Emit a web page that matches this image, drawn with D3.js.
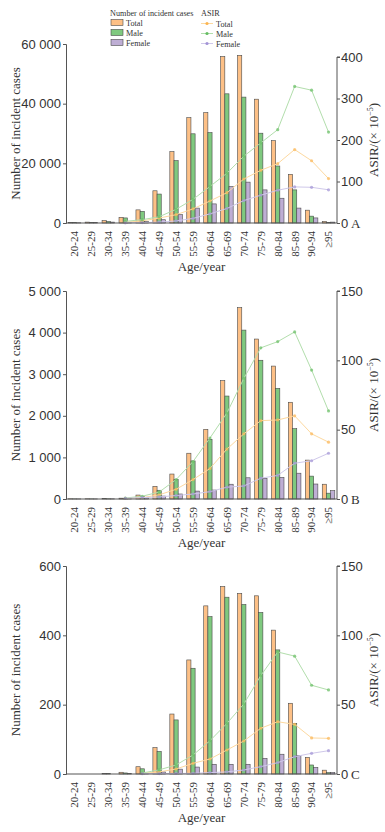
<!DOCTYPE html>
<html lang="en">
<head>
  <meta charset="UTF-8">
  <title>Incident cases and ASIR by age group</title>
  <script src="https://d3js.org/d3.v7.min.js"></script>
  <style>
    body { margin: 0; background: #fff; }
    svg { font-family: "Liberation Serif", "Times New Roman", serif; }
    .axis path, .axis line { stroke: #555; }
    .axis text { fill: #333; }
  </style>
</head>
<body>
  <script>
    // Age groups (x categories)
    const ageGroups = ["20-24", "25-29", "30-34", "35-39", "40-44", "45-49", "50-54", "55-59",
      "60-64", "65-69", "70-74", "75-79", "80-84", "85-89", "90-94", "≥95"];

    // Panel A: incident cases
    const casesTotalA  = [200, 300, 800, 1900, 4400, 10800, 23900, 35300, 37000, 55800, 56200, 41500, 27600, 16300, 4300, 500];
    const casesMaleA   = [120, 180, 500, 1700, 3900, 9700, 20900, 29900, 30300, 43300, 42200, 30100, 19100, 11100, 2300, 200];
    const casesFemaleA = [80, 120, 300, 200, 500, 1100, 2800, 5000, 6400, 12200, 13700, 11100, 8300, 5000, 1700, 300];
    // Panel A: ASIR (x10^-5)
    const asirTotalA  = [null, null, null, 2, 5, 12, 20, 34, 53, 73, 106, 127, 143, 177, 150, 107];
    const asirMaleA   = [null, null, null, 4, 8, 15, 33, 57, 88, 120, 161, 193, 225, 329, 320, 219];
    const asirFemaleA = [null, null, null, 0.5, 1, 2, 5, 11, 22, 35, 54, 67, 79, 87, 86, 80];

    // Panel B: incident cases
    const casesTotalB  = [5, 5, 10, 20, 95, 305, 600, 1100, 1675, 2845, 4600, 3845, 3195, 2325, 935, 355];
    const casesMaleB   = [3, 3, 6, 15, 60, 210, 465, 915, 1435, 2475, 4060, 3335, 2660, 1690, 550, 140];
    const casesFemaleB = [2, 2, 4, 10, 30, 70, 120, 190, 215, 355, 510, 495, 520, 620, 360, 200];
    // Panel B: ASIR
    const asirTotalB  = [null, null, null, 0.5, 1, 3, 7, 14, 22, 36, 47, 56.5, 57, 60, 47, 41];
    const asirMaleB   = [null, null, null, 0.7, 2, 5, 14, 27, 44, 62, 87, 109, 113.5, 120.5, 93, 63.5];
    const asirFemaleB = [null, null, null, 0.5, 1, 1.5, 2.5, 3.6, 5.3, 8.5, 9.4, 15, 17, 25.8, 27.6, 33];

    // Panel C: incident cases
    const casesTotalC  = [0, 0, 1, 5, 21, 76, 173, 329, 485, 541, 521, 514, 415, 204, 48, 11];
    const casesMaleC   = [0, 0, 1, 3, 15, 65, 156, 305, 454, 510, 489, 466, 358, 146, 26, 4];
    const casesFemaleC = [0, 0, 0, 1, 1, 6, 14, 20, 28, 28, 28, 45, 57, 53, 19, 4];
    // Panel C: ASIR
    const asirTotalC  = [null, null, null, null, 0.5, 1.5, 3.6, 7.7, 10.8, 17.3, 23.8, 33, 37.7, 35.8, 26, 25.7];
    const asirMaleC   = [null, null, null, null, 0.7, 3, 6.5, 13.7, 24, 36.5, 50.5, 71, 88, 85, 64, 60.6];
    const asirFemaleC = [null, null, null, null, 0.2, 0.3, 0.4, 0.5, 1, 1.5, 2.9, 5.3, 8.2, 12.5, 14.9, 16.8];

    // Axis tick values
    const leftTicksA = [0, 20000, 40000, 60000];
    const rightTicksA = [0, 100, 200, 300, 400];
    const leftTicksB = [0, 1000, 2000, 3000, 4000, 5000];
    const rightTicksB = [0, 50, 100, 150];
    const leftTicksC = [0, 200, 400, 600];
    const rightTicksC = [0, 50, 100, 150];

    const seriesNames = ["Total", "Male", "Female"];
    const barColors = {Total: "#fdc086", Male: "#7fc97f", Female: "#beaed4"};
    const lineColors = {Total: "#fdd9a0", Male: "#b2deac", Female: "#cfc8ea"};
    const dotColors = {Total: "#fbb552", Male: "#66bd63", Female: "#a394d6"};

    const width = 385, height = 832;
    const left = 66, right = 337;

    const svg = d3.select("body").append("svg")
      .attr("width", width)
      .attr("height", height);

    const fmt = v => d3.format(",")(v).replace(/,/g, " ");

    const x = d3.scaleBand().domain(ageGroups).range([left, right])
      .paddingInner(0.26).paddingOuter(0.13);
    const xSub = d3.scaleBand().domain(seriesNames).range([0, x.bandwidth()]);

    const panels = [
      {label: "A", top: 44, bottom: 223, rTop: 57, leftMax: 60000, rightMax: 400,
       leftTicks: leftTicksA, rightTicks: rightTicksA,
       cases: {Total: casesTotalA, Male: casesMaleA, Female: casesFemaleA},
       asir: {Total: asirTotalA, Male: asirMaleA, Female: asirFemaleA}},
      {label: "B", top: 291, bottom: 499, rTop: 291, leftMax: 5000, rightMax: 150,
       leftTicks: leftTicksB, rightTicks: rightTicksB,
       cases: {Total: casesTotalB, Male: casesMaleB, Female: casesFemaleB},
       asir: {Total: asirTotalB, Male: asirMaleB, Female: asirFemaleB}},
      {label: "C", top: 566, bottom: 774, rTop: 566, leftMax: 600, rightMax: 150,
       leftTicks: leftTicksC, rightTicks: rightTicksC,
       cases: {Total: casesTotalC, Male: casesMaleC, Female: casesFemaleC},
       asir: {Total: asirTotalC, Male: asirMaleC, Female: asirFemaleC}}
    ];

    panels.forEach(p => {
      const y = d3.scaleLinear().domain([0, p.leftMax]).range([p.bottom, p.top]);
      const y2 = d3.scaleLinear().domain([0, p.rightMax]).range([p.bottom, p.rTop]);
      const g = svg.append("g");

      // bars
      seriesNames.forEach(s => {
        g.selectAll(null)
          .data(ageGroups.map((a, i) => ({a, v: p.cases[s][i]})))
          .enter().append("rect")
          .attr("x", d => x(d.a) + xSub(s))
          .attr("y", d => y(d.v))
          .attr("width", xSub.bandwidth())
          .attr("height", d => p.bottom - y(d.v))
          .attr("fill", barColors[s])
          .attr("stroke", "#4a4a4a")
          .attr("stroke-width", 0.6);
      });

      // ASIR lines
      seriesNames.forEach(s => {
        const pts = ageGroups.map((a, i) => ({a, v: p.asir[s][i]}));
        const line = d3.line()
          .defined(d => d.v !== null)
          .x(d => x(d.a) + x.bandwidth() / 2)
          .y(d => y2(d.v));
        g.append("path")
          .datum(pts)
          .attr("fill", "none")
          .attr("stroke", lineColors[s])
          .attr("stroke-width", 1)
          .attr("d", line);
        g.selectAll(null)
          .data(pts.filter(d => d.v !== null))
          .enter().append("circle")
          .attr("cx", d => x(d.a) + x.bandwidth() / 2)
          .attr("cy", d => y2(d.v))
          .attr("r", 1.6)
          .attr("fill", dotColors[s])
          .attr("opacity", 0.7);
      });

      // left axis
      const ax = g.append("g").attr("class", "axis")
        .attr("transform", `translate(${left},0)`)
        .call(d3.axisLeft(y).tickValues(p.leftTicks).tickFormat(fmt).tickSize(3).tickPadding(2));
      ax.selectAll("text").attr("font-size", 13);

      // right axis
      const ar = g.append("g").attr("class", "axis")
        .attr("transform", `translate(${right},0)`)
        .call(d3.axisRight(y2).tickValues(p.rightTicks).tickSize(3).tickPadding(1));
      ar.selectAll("text").attr("font-size", 13);
      ar.select(".domain").attr("d", `M3,${p.rTop}H0V${p.bottom}`);

      // panel letter beside the right zero
      g.append("text")
        .attr("x", 351).attr("y", p.bottom + 4.5)
        .attr("font-size", 13).attr("fill", "#333")
        .text(p.label);

      // x axis
      g.append("line")
        .attr("x1", left).attr("x2", right)
        .attr("y1", p.bottom).attr("y2", p.bottom)
        .attr("stroke", "#555");
      g.selectAll(null)
        .data(ageGroups)
        .enter().append("text")
        .attr("transform", d => `translate(${x(d) + x.bandwidth() / 2},${p.bottom + 8}) rotate(-90)`)
        .attr("dy", "0.35em")
        .attr("text-anchor", "end")
        .attr("font-size", 11)
        .attr("fill", "#333")
        .text(d => d);

      g.append("text")
        .attr("x", (left + right) / 2).attr("y", p.bottom + 48)
        .attr("text-anchor", "middle")
        .attr("font-size", 13).attr("fill", "#333")
        .text("Age/year");

      g.append("text")
        .attr("transform", `translate(20,${(p.top + p.bottom) / 2}) rotate(-90)`)
        .attr("text-anchor", "middle")
        .attr("font-size", 13).attr("fill", "#333")
        .text("Number of incident cases");

      const rt = g.append("text")
        .attr("transform", `translate(378,${(p.rTop + p.bottom) / 2}) rotate(-90)`)
        .attr("text-anchor", "middle")
        .attr("font-size", 13).attr("fill", "#333");
      rt.append("tspan").text("ASIR/(× 10");
      rt.append("tspan").attr("font-size", 8).attr("dy", -5).text("−5");
      rt.append("tspan").attr("dy", 5).text(")");
    });

    // legend
    const lg = svg.append("g").attr("font-size", 8.2).attr("fill", "#333");
    lg.append("text").attr("x", 110).attr("y", 16).text("Number of incident cases");
    lg.append("text").attr("x", 201).attr("y", 16).text("ASIR");
    seriesNames.forEach((s, i) => {
      const yy = 22.5 + i * 10;
      lg.append("rect")
        .attr("x", 111).attr("y", yy - 3).attr("width", 12).attr("height", 6)
        .attr("fill", barColors[s]).attr("stroke", "#4a4a4a").attr("stroke-width", 0.6);
      lg.append("text").attr("x", 126).attr("y", yy + 3).text(s);
      lg.append("line")
        .attr("x1", 201).attr("x2", 213).attr("y1", yy + 1).attr("y2", yy + 1)
        .attr("stroke", lineColors[s]).attr("stroke-width", 1);
      lg.append("circle")
        .attr("cx", 207).attr("cy", yy + 1).attr("r", 1.6)
        .attr("fill", dotColors[s]);
      lg.append("text").attr("x", 216).attr("y", yy + 4).text(s);
    });
  </script>
</body>
</html>
